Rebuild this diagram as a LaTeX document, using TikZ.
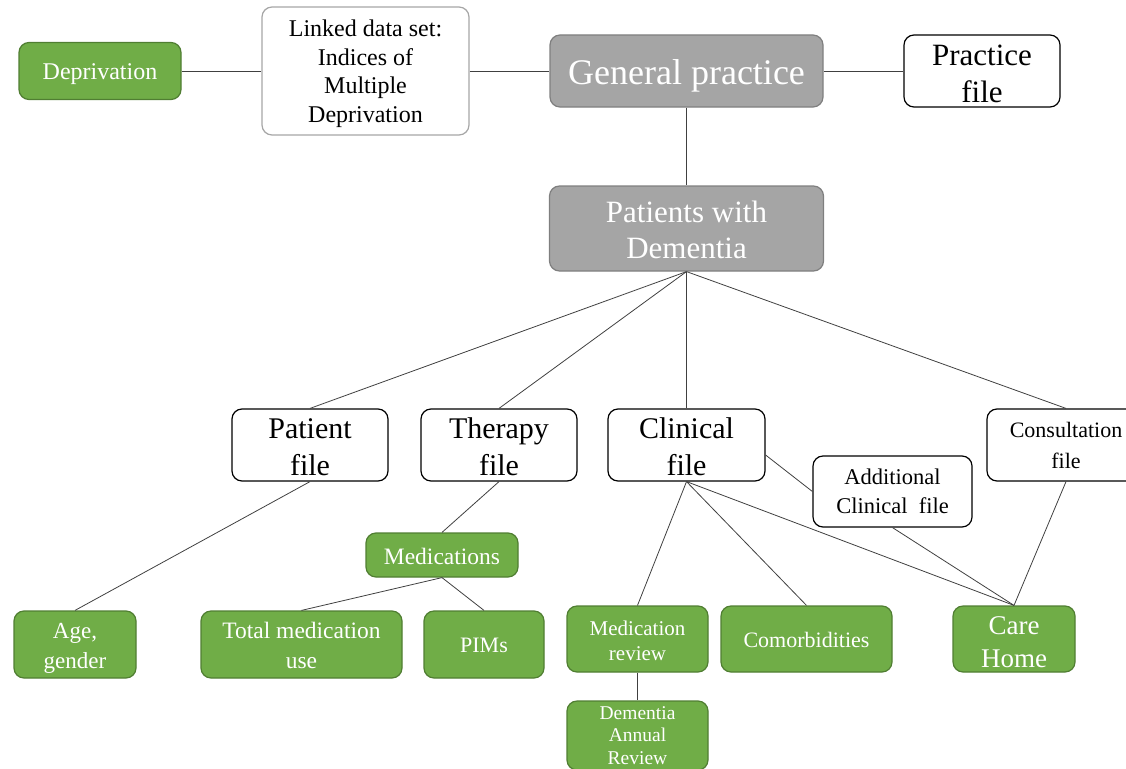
\documentclass[tikz,border=0pt]{standalone}
\usepackage{fontspec}
\setmainfont{Liberation Serif}
\newfontfamily\timesface{Liberation Serif}
\definecolor{leaf}{HTML}{70AD47}
\definecolor{leafedge}{HTML}{507E32}
\definecolor{stone}{HTML}{A5A5A5}
\definecolor{stoneedge}{HTML}{7F7F7F}
\definecolor{paleedge}{HTML}{A6A6A6}
\definecolor{wire}{HTML}{404040}
% invisible strut: a taller first line pushes the text block lower in its box
\newcommand{\lift}[1]{\rule{0pt}{#1}}
\tikzset{
  box/.style={rectangle, rounded corners=10pt, align=center, inner sep=0pt, line width=1.2pt},
  greenbox/.style={box, fill=leaf, draw=leafedge, text=white},
  greybox/.style={box, fill=stone, draw=stoneedge, text=white},
  filebox/.style={box, fill=white, draw=black},
  linkbox/.style={box, fill=white, draw=paleedge},
  wirestyle/.style={draw=wire, line width=0.8pt},
  fs/.style 2 args={font=\timesface\fontsize{#1}{#2}\selectfont},
  sz/.style 2 args={minimum width=#1, minimum height=#2},
  topstrut/.style={execute at begin node={\lift{#1}}}
}
\begin{document}
\begin{tikzpicture}[x=1pt, y=-1pt]
\useasboundingbox (0,0) rectangle (1126,768);
\clip (0,0) rectangle (1126,768);

% top row
\node[greenbox, sz={162pt}{57pt}, fs={24}{28}, topstrut=22.5pt] (dep) at (100,71) {Deprivation};
\node[linkbox, sz={207pt}{128pt}, fs={24}{28.5}] (link) at (365.5,71) {\lift{22.5pt}Linked data set:\\Indices of\\Multiple\\Deprivation};
\node[greybox, sz={273pt}{72pt}, fs={36}{40}, topstrut=35pt] (gp) at (686.5,71) {General practice};
\node[filebox, sz={156pt}{72pt}, fs={31}{37.5}] (pfile) at (982,71) {\lift{26pt}Practice\\file};

% patients
\node[greybox, sz={274pt}{85pt}, fs={31}{36}] (pwd) at (686.5,228.5) {\lift{24pt}Patients with\\Dementia};

% data files
\node[filebox, sz={156pt}{72pt}, fs={30}{37}] (patf) at (310,445) {\lift{23.5pt}Patient\\file};
\node[filebox, sz={156pt}{72pt}, fs={30}{37}] (thf) at (499,445) {\lift{23.5pt}Therapy\\file};
\node[filebox, sz={157pt}{72pt}, fs={30}{37}] (clf) at (686.5,445) {\lift{23.5pt}Clinical\\file};
\node[filebox, sz={158pt}{72pt}, fs={22}{31}] (conf) at (1066,445) {Consultation\\file};
\node[filebox, sz={159pt}{71pt}, fs={22.5}{28.5}] (addf) at (892.5,491.5) {Additional\\Clinical\ \ file};

% variables
\node[greenbox, sz={152pt}{44pt}, fs={23.5}{28}, topstrut=20pt] (meds) at (442,555) {Medications};
\node[greenbox, sz={122pt}{67pt}, fs={23}{30}] (age) at (75,644.5) {\lift{23.5pt}Age,\\gender};
\node[greenbox, sz={201pt}{67pt}, fs={23.5}{30}] (tot) at (301.5,644.5) {\lift{19pt}Total medication\\use};
\node[greenbox, sz={120pt}{67pt}, fs={22}{28}, topstrut=17pt] (pims) at (484,644.5) {PIMs};
\node[greenbox, sz={141pt}{66pt}, fs={21}{25}] (medrev) at (637.5,639) {\lift{18.5pt}Medication\\review};
\node[greenbox, sz={171pt}{66pt}, fs={22}{26}, topstrut=17pt] (comorb) at (806.5,639) {Comorbidities};
\node[greenbox, sz={122pt}{66pt}, fs={27}{33}] (care) at (1014,639) {\lift{24pt}Care\\Home};
\node[greenbox, sz={141pt}{69pt}, fs={19.5}{22.5}] (dar) at (637.5,735.5) {Dementia\\Annual\\Review};

% connectors
\draw[wirestyle] (dep.east) -- (link.west);
\draw[wirestyle] (link.east) -- (gp.west);
\draw[wirestyle] (gp.east) -- (pfile.west);
\draw[wirestyle] (gp.south) -- (pwd.north);
\draw[wirestyle] (pwd.south) -- (patf.north);
\draw[wirestyle] (pwd.south) -- (thf.north);
\draw[wirestyle] (pwd.south) -- (clf.north);
\draw[wirestyle] (pwd.south) -- (conf.north);
\draw[wirestyle] (patf.south) -- (age.north);
\draw[wirestyle] (thf.south) -- (meds.north);
\draw[wirestyle] (meds.south) -- (tot.north);
\draw[wirestyle] (meds.south) -- (pims.north);
\draw[wirestyle] (clf.south) -- (medrev.north);
\draw[wirestyle] (clf.south) -- (comorb.north);
\draw[wirestyle] (clf.south) -- (care.north);
\draw[wirestyle] ([yshift=-10pt]clf.east) -- (addf.west);
\draw[wirestyle] (addf.south) -- (care.north);
\draw[wirestyle] (conf.south) -- (care.north);
\draw[wirestyle] (medrev.south) -- (dar.north);
\end{tikzpicture}
\end{document}
